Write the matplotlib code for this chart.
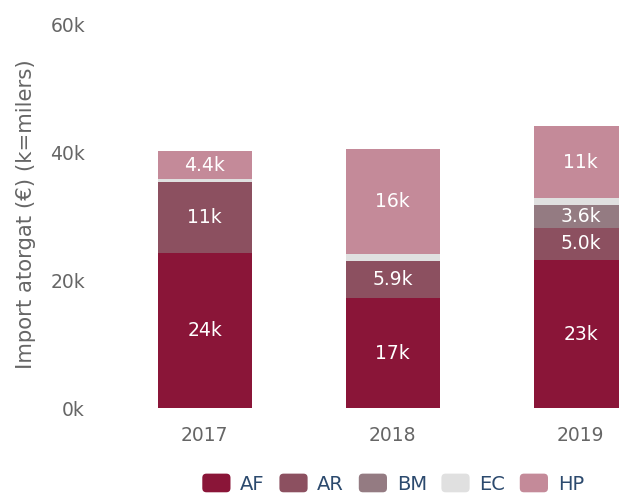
import matplotlib.pyplot as plt
import numpy as np
from matplotlib.patches import Patch, FancyBboxPatch
from matplotlib.legend_handler import HandlerPatch

# Datos (en miles de euros)
years = ['2017', '2018', '2019']
series = ['AF', 'AR', 'BM', 'EC', 'HP']
af = [24.3, 17.2, 23.2]
ar = [11.1, 5.9, 5.0]
bm = [0.0, 0.0, 3.6]
ec = [0.4, 1.1, 1.1]
hp = [4.4, 16.3, 11.2]
colors = ['#8a1538', '#8c5060', '#947b82', '#e0e0e0', '#c48a99']


def fmt_k(v):
    return f'{v:.0f}k' if v >= 10 else f'{v:.1f}k'


class RoundHandler(HandlerPatch):
    def create_artists(self, legend, orig_handle, xdescent, ydescent,
                       width, height, fontsize, trans):
        p = FancyBboxPatch((-xdescent + 2, -ydescent + 2), width - 4, height - 4,
                           boxstyle='round,pad=2,rounding_size=3',
                           facecolor=orig_handle.get_facecolor(),
                           edgecolor='none', transform=trans)
        return [p]


fig = plt.figure(figsize=(6.19, 4.96), dpi=100)
ax = fig.add_axes([0.179, 0.177, 0.911, 0.773])

x = np.arange(len(years))
bottom = np.zeros(len(years))
for name, vals, col in zip(series, [af, ar, bm, ec, hp], colors):
    vals = np.array(vals)
    ax.bar(x, vals, width=0.5, bottom=bottom, color=col, label=name)
    for xi, b, v in zip(x, bottom, vals):
        if v >= 2:
            ax.text(xi, b + v / 2, fmt_k(v), ha='center', va='center',
                    color='white', fontsize=13.5)
    bottom += vals

ax.set_xlim(-0.5, 2.5)
ax.set_ylim(0, 60)
ax.set_yticks([0, 20, 40, 60])
ax.set_yticklabels(['0k', '20k', '40k', '60k'])
ax.set_xticks(x)
ax.set_xticklabels(years)
ax.tick_params(length=0, labelsize=13.5, colors='#666666')
ax.tick_params(axis='y', pad=18.5)
ax.tick_params(axis='x', pad=13)
for s in ax.spines.values():
    s.set_visible(False)
ax.set_ylabel('Import atorgat (€) (k=milers)', fontsize=15.3, color='#666666')
ax.yaxis.set_label_coords(-0.133, 0.505)

handles = [Patch(facecolor=c, label=n) for n, c in zip(series, colors)]
fig.legend(handles=handles, loc='center', bbox_to_anchor=(0.635, 0.025), ncol=5,
           frameon=False, fontsize=14, labelcolor='#2c4a6e', handlelength=1.45,
           handleheight=1.1, handletextpad=0.5, columnspacing=0.75,
           handler_map={Patch: RoundHandler()})

fig.savefig('out.png', dpi=100)
